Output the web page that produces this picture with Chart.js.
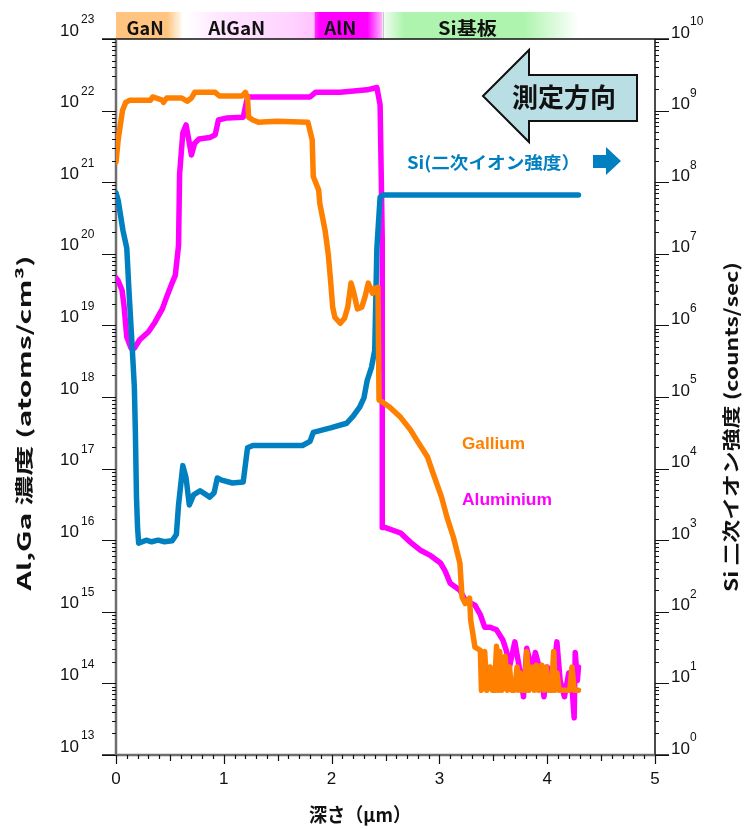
<!DOCTYPE html>
<html>
<head>
<meta charset="utf-8">
<script src="https://cdn.jsdelivr.net/npm/chart.js@4.4.0/dist/chart.umd.min.js"></script>
<style>
  html, body { margin: 0; padding: 0; background: #fff; }
  #wrap { width: 745px; height: 829px; }
</style>
</head>
<body>
<div id="wrap"><canvas id="sims" width="745" height="829"></canvas></div>
<script>
// SIMS depth profile
// depth in um, Ga / Al in atoms/cm3, Si in counts/sec
const gaDepth = [0, 0.02, 0.06, 0.09, 0.13, 0.32, 0.34, 0.43, 0.44, 0.47, 0.61, 0.66, 0.70, 0.73, 0.92, 0.96,
  1.17, 1.20, 1.22, 1.23, 1.27, 1.32, 1.49, 1.78, 1.82, 1.83, 1.88, 1.89, 1.94, 1.97, 1.99, 2.01, 2.03, 2.08,
  2.12, 2.15, 2.18, 2.20, 2.24, 2.28, 2.31, 2.34, 2.38, 2.40, 2.43, 2.44, 2.48, 2.54, 2.64, 2.73, 2.79, 2.89,
  2.94, 3.02, 3.07, 3.13, 3.16, 3.19, 3.21, 3.24, 3.28, 3.29, 3.33, 3.38, 3.39,
  3.42, 3.44, 3.47, 3.49, 3.51, 3.53, 3.545, 3.56, 3.58, 3.61, 3.63, 3.65, 3.67, 3.70, 3.72, 3.735, 3.75, 3.77,
  3.79, 3.81, 3.83, 3.86, 3.88, 3.90, 3.92, 3.95, 3.97, 3.99, 4.01, 4.04, 4.06, 4.075, 4.09, 4.11, 4.21, 4.23,
  4.25, 4.29];
const gaConc = [1.9e21, 3.9e21, 1.0e22, 1.3e22, 1.4e22, 1.4e22, 1.55e22, 1.4e22, 1.3e22, 1.5e22, 1.5e22, 1.35e22,
  1.5e22, 1.8e22, 1.8e22, 1.6e22, 1.6e22, 1.8e22, 1.55e22, 8.1e21, 7.4e21, 6.9e21, 7.1e21, 6.9e21, 3.9e21, 1.2e21,
  7.8e20, 5.1e20, 2.1e20, 9.6e19, 4.3e19, 1.8e19, 1.3e19, 1.07e19, 1.26e19, 1.8e19, 3.9e19, 3.1e19, 1.7e19, 1.8e19,
  2.5e19, 3.9e19, 2.8e19, 3.3e19, 3.4e19, 9.1e17, 8.3e17, 7.2e17, 5.2e17, 3.5e17, 2.5e17, 1.45e17, 8.7e16, 4.0e16,
  2.1e16, 1.1e16, 7.3e15, 4.8e15, 1.6e15, 1.3e15, 1.55e15, 7.7e14, 3.2e14, 2.9e14, 8e13,
  2.8e14, 8e13, 1.7e14, 8e13, 8e13, 3.3e14, 8e13, 2.8e14, 8e13, 2.4e14, 8e13, 1.7e14, 8e13, 8e13, 1.7e14, 8e13,
  1.4e14, 8e13, 8e13, 2.8e14, 8e13, 1.7e14, 8e13, 1.8e14, 8e13, 1.8e14, 8e13, 1.7e14, 8e13, 8e13, 2.8e14, 8e13,
  1.4e14, 8e13, 8e13, 1.7e14, 8e13, 8e13];

const alDepth = [0, 0.02, 0.056, 0.074, 0.10, 0.14, 0.17, 0.22, 0.30, 0.36, 0.43, 0.47, 0.52, 0.55, 0.58, 0.59,
  0.62, 0.65, 0.67, 0.70, 0.73, 0.77, 0.87, 0.92, 0.95, 1.03, 1.18, 1.22, 1.80, 1.85, 2.08, 2.33, 2.42, 2.45,
  2.47, 2.47, 2.50, 2.64, 2.73, 2.82, 2.91, 3.01, 3.05, 3.10, 3.19, 3.24, 3.33, 3.38, 3.42, 3.47, 3.53, 3.59,
  3.62, 3.65, 3.70, 3.75, 3.78, 3.81, 3.86, 3.89, 3.94, 3.97, 4.00, 4.05, 4.09, 4.12, 4.16, 4.20, 4.23, 4.25,
  4.26, 4.28, 4.29];
const alConc = [4.6e19, 4.2e19, 3.1e19, 1.9e19, 6.9e18, 4.8e18, 4.8e18, 6.3e18, 8.1e18, 1.1e19, 1.7e19, 2.5e19,
  3.9e19, 5.0e19, 1.3e20, 1.3e21, 4.9e21, 6.3e21, 4.3e21, 2.4e21, 3.5e21, 4.0e21, 4.2e21, 4.6e21, 7.4e21, 7.9e21,
  8.1e21, 1.55e22, 1.55e22, 1.8e22, 1.8e22, 1.95e22, 2.1e22, 1.2e22, 1.55e20, 1.5e16, 1.5e16, 1.26e16, 9.4e15,
  7.3e15, 6.2e15, 4.8e15, 3.8e15, 2.5e15, 2.0e15, 1.45e15, 1.24e15, 9.1e14, 6.1e14, 6.1e14, 5.6e14, 4.0e14,
  2.9e14, 1.7e14, 3.8e14, 1.4e14, 6.5e13, 3.1e14, 1.5e14, 2.7e14, 1.4e14, 6.5e13, 1.7e14, 1.1e14, 3.8e14, 1.1e14,
  6.5e13, 1.4e14, 8.9e13, 3.3e13, 2.7e14, 1.1e14, 1.7e14];

const siDepth = [0, 0.02, 0.065, 0.10, 0.12, 0.15, 0.17, 0.18, 0.19, 0.20, 0.21, 0.28, 0.33, 0.39, 0.45, 0.52,
  0.56, 0.58, 0.62, 0.65, 0.68, 0.72, 0.78, 0.87, 0.91, 0.94, 0.98, 1.08, 1.18, 1.22, 1.27, 1.73, 1.80, 1.83,
  1.99, 2.14, 2.20, 2.26, 2.30, 2.33, 2.37, 2.40, 2.42, 2.45, 2.48, 4.29];
const siCounts = [7.1e7, 5.6e7, 2.1e7, 1.2e7, 3.1e6, 5.0e5, 1.4e5, 3.1e4, 4.0e3, 1.5e3, 9.1e2, 1.0e3, 9.5e2, 1.0e3,
  9.5e2, 9.8e2, 1.2e3, 3.1e3, 1.1e4, 7.4e3, 3.1e3, 4.3e3, 4.9e3, 4.0e3, 4.6e3, 7.4e3, 6.9e3, 6.3e3, 6.5e3, 1.95e4,
  2.1e4, 2.1e4, 2.4e4, 3.2e4, 3.7e4, 4.3e4, 5.4e4, 7.2e4, 9.7e4, 1.7e5, 2.6e5, 4.5e5, 1.2e7, 6.2e7, 6.6e7, 6.6e7];

// layer band across the top
const layerNames = ['GaN', 'AlGaN', 'AlN', 'Si基板'];
const layerFrom = [0, 0.65, 1.84, 2.49];
const layerTo = [0.61, 1.81, 2.47, 4.29];
const layerLabelAt = [0.27, 1.12, 2.08, 3.26];

const depthTicks = [0, 1, 2, 3, 4, 5];
const leftDecades = [13, 14, 15, 16, 17, 18, 19, 20, 21, 22, 23];
const rightDecades = [0, 1, 2, 3, 4, 5, 6, 7, 8, 9, 10];

const ORANGE = '#FF8000', MAGENTA = '#FF00FF', BLUE = '#0080C0';
const NUM_FONT = '"Liberation Sans", Arial, sans-serif';
const JP_FONT = '"Noto Sans CJK JP", "Liberation Sans", sans-serif';

function pts(xs, ys) {
  return xs.map((x, i) => ({ x: x, y: ys[i] }));
}

// draw text squeezed/stretched to a target width
function fitText(ctx, text, x, y, width, font, color, align) {
  ctx.save();
  ctx.font = font;
  ctx.fillStyle = color;
  ctx.textBaseline = 'middle';
  ctx.textAlign = 'left';
  const w = ctx.measureText(text).width;
  const k = width / w;
  let x0 = x;
  if (align === 'center') x0 = x - width / 2;
  ctx.translate(x0, y);
  ctx.scale(k, 1);
  ctx.fillText(text, 0, 0);
  ctx.restore();
}

function minorValues(decades) {
  const out = [];
  for (let i = 0; i < decades.length - 1; i++) {
    for (let m = 2; m <= 9; m++) out.push(m * Math.pow(10, decades[i]));
  }
  return out;
}

const gradientStops = [
  [[0, '#FFC47F'], [0.78, '#FFC47F'], [0.88, '#FFDDB5'], [1, '#FFF9F2']],
  [[0, '#FFFFFF'], [0.25, '#FFE8FF'], [0.85, '#FFD2FF'], [1, '#FFC4FF']],
  [[0, '#FF33FF'], [0.08, '#FF00FF'], [0.78, '#FF00FF'], [1, '#FFB8FF']],
  [[0, '#EEFDEE'], [0.1, '#AEF4AE'], [0.72, '#AEF4AE'], [1, '#FFFFFF']]
];

const decoPlugin = {
  id: 'deco',
  beforeDatasetsDraw(chart) {
    const { ctx, chartArea: a, scales } = chart;
    const x = scales.x;

    // layer band
    const bTop = 12, bBot = a.top;
    layerNames.forEach((name, i) => {
      const x0 = x.getPixelForValue(layerFrom[i]);
      const x1 = x.getPixelForValue(layerTo[i]);
      const g = ctx.createLinearGradient(x0, 0, x1, 0);
      gradientStops[i].forEach(s => g.addColorStop(s[0], s[1]));
      ctx.fillStyle = g;
      ctx.fillRect(x0, bTop, x1 - x0, bBot - bTop);
    });
    ctx.fillStyle = '#FFC4FF';
    ctx.fillRect(x.getPixelForValue(1.81), bTop, x.getPixelForValue(1.84) - x.getPixelForValue(1.81), bBot - bTop);
    ctx.fillStyle = '#bbbbbb';
    ctx.fillRect(x.getPixelForValue(2.475), bTop, 1, bBot - bTop);
    const widths = [37, 57, 32, 59];
    layerNames.forEach((name, i) => {
      fitText(ctx, name, x.getPixelForValue(layerLabelAt[i]), 28, widths[i],
        'bold 18px ' + JP_FONT, '#111', 'center');
    });

    // frame
    ctx.save();
    ctx.lineCap = 'butt';
    ctx.strokeStyle = '#111';
    ctx.lineWidth = 1.5;
    ctx.beginPath();
    ctx.moveTo(a.left - 14, a.top); ctx.lineTo(a.right + 14, a.top);
    ctx.moveTo(a.right, a.top); ctx.lineTo(a.right, a.bottom);
    ctx.moveTo(a.left - 14, a.bottom); ctx.lineTo(a.left, a.bottom);
    ctx.moveTo(a.right, a.bottom); ctx.lineTo(a.right + 14, a.bottom);
    ctx.stroke();
    ctx.strokeStyle = '#6e6e6e';
    ctx.lineWidth = 2.5;
    ctx.beginPath();
    ctx.moveTo(a.left, a.top); ctx.lineTo(a.left, a.bottom);
    ctx.moveTo(a.left, a.bottom); ctx.lineTo(a.right, a.bottom);
    ctx.stroke();
    ctx.restore();
  },
  afterDraw(chart) {
    const { ctx, chartArea: a, scales } = chart;
    const x = scales.x, yL = scales.yL, yR = scales.yR;

    ctx.save();
    ctx.strokeStyle = '#111';
    ctx.lineWidth = 1.2;
    ctx.beginPath();
    // log ticks
    leftDecades.forEach(e => {
      const p = Math.round(yL.getPixelForValue(Math.pow(10, e))) + 0.5;
      ctx.moveTo(a.left - 14, p); ctx.lineTo(a.left, p);
    });
    minorValues(leftDecades).forEach(v => {
      const p = Math.round(yL.getPixelForValue(v)) + 0.5;
      ctx.moveTo(a.left - 4, p); ctx.lineTo(a.left, p);
    });
    rightDecades.forEach(e => {
      const p = Math.round(yR.getPixelForValue(Math.pow(10, e))) + 0.5;
      ctx.moveTo(a.right, p); ctx.lineTo(a.right + 14, p);
    });
    minorValues(rightDecades).forEach(v => {
      const p = Math.round(yR.getPixelForValue(v)) + 0.5;
      ctx.moveTo(a.right, p); ctx.lineTo(a.right + 4, p);
    });
    // depth ticks
    for (let k = 0; k <= 50; k++) {
      const p = Math.round(x.getPixelForValue(k / 10)) + 0.5;
      const len = k % 10 === 0 ? 9 : (k % 5 === 0 ? 6 : 4);
      ctx.moveTo(p, a.bottom); ctx.lineTo(p, a.bottom + len);
    }
    ctx.stroke();
    ctx.restore();

    // tick labels
    ctx.save();
    ctx.fillStyle = '#111';
    ctx.textBaseline = 'middle';
    leftDecades.forEach(e => {
      const p = yL.getPixelForValue(Math.pow(10, e));
      ctx.font = '17px ' + NUM_FONT;
      ctx.textAlign = 'right';
      ctx.fillText('10', 79, p - 8);
      ctx.font = '12px ' + NUM_FONT;
      ctx.textAlign = 'left';
      ctx.fillText(String(e), 81, p - 19);
    });
    rightDecades.forEach(e => {
      const p = yR.getPixelForValue(Math.pow(10, e));
      ctx.font = '17px ' + NUM_FONT;
      ctx.textAlign = 'left';
      ctx.fillText('10', 671, p - 6);
      ctx.font = '12px ' + NUM_FONT;
      ctx.fillText(String(e), 690, p - 17);
    });
    ctx.font = '17px ' + NUM_FONT;
    ctx.textAlign = 'center';
    depthTicks.forEach(t => {
      ctx.fillText(String(t), x.getPixelForValue(t), 779);
    });
    ctx.restore();

    // axis titles
    ctx.save();
    ctx.translate(24, 423);
    ctx.rotate(-Math.PI / 2);
    fitText(ctx, 'Al,Ga 濃度 (atoms/cm³)', 0, 0, 335, 'bold 18px ' + JP_FONT, '#111', 'center');
    ctx.restore();
    ctx.save();
    ctx.translate(731, 427);
    ctx.rotate(-Math.PI / 2);
    fitText(ctx, 'Si 二次イオン強度 (counts/sec)', 0, 0, 330, 'bold 18px ' + JP_FONT, '#111', 'center');
    ctx.restore();
    fitText(ctx, '深さ（μm）', 360, 815, 102, 'bold 19px ' + JP_FONT, '#111', 'center');

    // measuring direction arrow
    ctx.save();
    ctx.beginPath();
    ctx.moveTo(483, 96);
    ctx.lineTo(529, 50);
    ctx.lineTo(529, 75);
    ctx.lineTo(637, 75);
    ctx.lineTo(637, 121);
    ctx.lineTo(529, 121);
    ctx.lineTo(529, 142);
    ctx.closePath();
    ctx.fillStyle = '#B9DFE4';
    ctx.fill();
    ctx.strokeStyle = '#111';
    ctx.lineWidth = 2;
    ctx.lineJoin = 'miter';
    ctx.stroke();
    ctx.restore();
    fitText(ctx, '測定方向', 564, 97, 104, 'bold 26px ' + JP_FONT, '#111', 'center');

    // Si annotation with small arrow
    fitText(ctx, 'Si(二次イオン強度）', 407, 163, 173, 'bold 17px ' + JP_FONT, BLUE, 'left');
    ctx.save();
    ctx.beginPath();
    ctx.moveTo(593, 155);
    ctx.lineTo(606, 155);
    ctx.lineTo(606, 147);
    ctx.lineTo(621, 161);
    ctx.lineTo(606, 175);
    ctx.lineTo(606, 168);
    ctx.lineTo(593, 168);
    ctx.closePath();
    ctx.fillStyle = BLUE;
    ctx.fill();
    ctx.restore();

    fitText(ctx, 'Gallium', 462, 444, 63, 'bold 17px ' + NUM_FONT, ORANGE, 'left');
    fitText(ctx, 'Aluminium', 462, 500, 90, 'bold 17px ' + NUM_FONT, MAGENTA, 'left');
  }
};

const hiddenAxis = {
  grid: { display: false },
  border: { display: false },
  ticks: { display: false }
};

new Chart(document.getElementById('sims'), {
  type: 'line',
  data: {
    datasets: [
      { label: 'Gallium', data: pts(gaDepth, gaConc), borderColor: ORANGE, yAxisID: 'yL' },
      { label: 'Si', data: pts(siDepth, siCounts), borderColor: BLUE, yAxisID: 'yR' },
      { label: 'Aluminium', data: pts(alDepth, alConc), borderColor: MAGENTA, yAxisID: 'yL' }
    ]
  },
  options: {
    responsive: false,
    animation: false,
    layout: { padding: { top: 39, left: 0, right: 0, bottom: 0 } },
    elements: {
      point: { radius: 0 },
      line: { borderWidth: 5.5, tension: 0, borderJoinStyle: 'round', borderCapStyle: 'round' }
    },
    plugins: { legend: { display: false }, tooltip: { enabled: false } },
    scales: {
      x: Object.assign({ type: 'linear', min: 0, max: 5, afterFit(s) { s.height = 74; } }, hiddenAxis),
      yL: Object.assign({ type: 'logarithmic', position: 'left', min: 1e13, max: 1e23,
        afterFit(s) { s.width = 116; } }, hiddenAxis),
      yR: Object.assign({ type: 'logarithmic', position: 'right', min: 1, max: 1e10,
        afterFit(s) { s.width = 90; } }, hiddenAxis)
    }
  },
  plugins: [decoPlugin]
});
</script>
</body>
</html>
